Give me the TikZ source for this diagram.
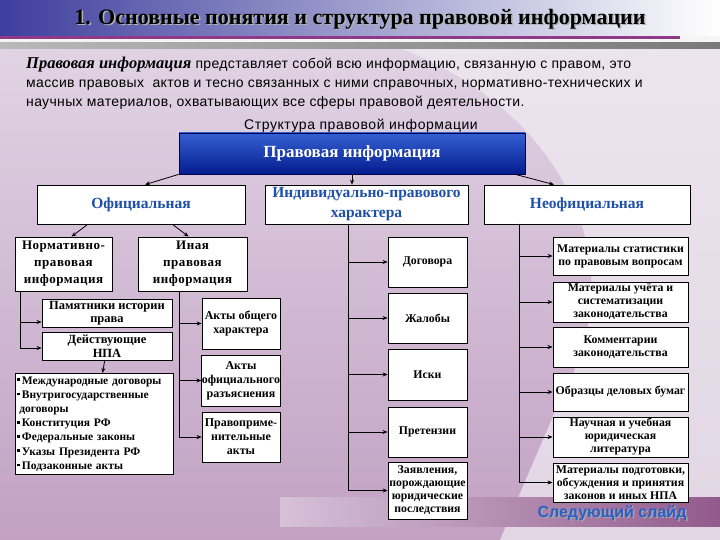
\documentclass[tikz,border=0pt]{standalone}
\usepackage{fontspec}
\setmainfont{Liberation Serif}
\setsansfont{Liberation Sans}
\usetikzlibrary{arrows.meta,positioning,calc}
\definecolor{titleblue}{HTML}{3E3E9E}
\definecolor{topblue}{HTML}{041C8E}
\definecolor{topblueL}{HTML}{3560D2}
\definecolor{lvltext}{HTML}{1E50A8}
\definecolor{bgdark}{HTML}{C2A1C3}
\definecolor{bgmid}{HTML}{E3D8E7}
\definecolor{bglight}{HTML}{F1EDF3}
\definecolor{bandpurple}{HTML}{925A8C}
\definecolor{linepurple}{HTML}{8E3A86}
\definecolor{nextblue}{HTML}{2D5FC8}
\newcommand\sqb{\raisebox{3pt}{\rule{2.6pt}{2.6pt}}\,}

\begin{document}
\begin{tikzpicture}[x=1pt,y=-1pt,
  every node/.style={align=center, inner sep=1pt},
  box/.style={draw, line width=0.8pt, fill=white, font=\fontsize{11.8}{13}\selectfont\bfseries},
  kindbox/.style={draw, line width=0.8pt, fill=white, text=lvltext,
    font=\fontsize{15.5}{20}\selectfont\bfseries, minimum height=39pt},
  link/.style={draw, line width=0.8pt, -{Stealth[length=5pt,width=4pt]}}]
  \useasboundingbox (0,0) rectangle (720,540);
  % background
  \shade[top color=bgmid, bottom color=bgdark] (0,0) rectangle (720,540);
  \fill[bglight, opacity=0.7] (400,48) .. controls (560,110) and (640,260) .. (560,400)
    -- (500,540) -- (720,540) -- (720,48) -- cycle;
  \shade[left color=bgdark!40!bgmid, right color=bandpurple] (280,497) rectangle (720,526);
  \shade[left color=titleblue, right color=white] (0,0) rectangle (720,36);
  \fill[white!92!gray] (0,36) rectangle (720,43);
  \draw[linepurple, line width=2.5pt] (0,37.5) -- (680,37.5);
  \shade[left color=gray!55, right color=gray!95!black] (0,43) rectangle (720,49);

  \node[text=gray!60, font=\fontsize{22}{26}\selectfont\bfseries] at (361.5,20.5)
    {1. Основные понятия и структура правовой информации};
  \node[font=\fontsize{22}{26}\selectfont\bfseries] (title) at (360,19)
    {1. Основные понятия и структура правовой информации};

  \node[anchor=north west, align=left, font=\sffamily\fontsize{14}{19}\selectfont\addfontfeature{LetterSpace=2.5}] (intro) at (25,56)
    {{\rmfamily\bfseries\itshape\fontsize{16.5}{19}\selectfont Правовая информация} представляет собой всю информацию, связанную с правом, это\\
     массив правовых \ актов и тесно связанных с ними справочных, нормативно-технических и\\
     научных материалов, охватывающих все сферы правовой деятельности.};
  \node[font=\sffamily\fontsize{14}{15}\selectfont\addfontfeature{LetterSpace=4}] (struct) at (361,126) {Структура правовой информации};

  \node[draw=black!70!blue, line width=0.8pt, top color=topblueL, bottom color=topblue, text=white,
    font=\fontsize{17}{19}\selectfont\bfseries, minimum width=346pt, minimum height=41pt]
    (pravinfo) at (352,153.5) {Правовая информация};

  \node[kindbox, minimum width=208pt] (off) at (141,204.5) {Официальная};
  \node[kindbox, minimum width=203pt] (ind) at (366.5,204.5) {Индивидуально-правового\\характера};
  \node[kindbox, minimum width=206pt] (neoff) at (587,204.5) {Неофициальная};

  \draw[link] (pravinfo.south west) -- ([xshift=4pt]off.north);
  \draw[link] (pravinfo.south) -- (pravinfo.south |- ind.north);
  \draw[link] ([xshift=-10pt]pravinfo.south east) -- ([xshift=-33pt]neoff.north);

  % official branch
  \node[box, font=\fontsize{13}{17}\selectfont\bfseries\addfontfeature{LetterSpace=4}, minimum width=97pt, minimum height=54pt]
    (npa) at (63.5,264) {Нормативно-\\правовая\\информация};
  \node[box, font=\fontsize{13}{17}\selectfont\bfseries\addfontfeature{LetterSpace=4}, minimum width=109pt, minimum height=54pt]
    (inaya) at (192.5,264) {Иная\\правовая\\информация};
  \draw[link] ([xshift=51pt]off.south west) -- ([xshift=8pt]npa.north);
  \draw[link] ([xshift=136pt]off.south west) -- ([xshift=-4pt]inaya.north);

  \node[box, font=\fontsize{12.5}{13.5}\selectfont\bfseries, minimum width=130pt, minimum height=28pt]
    (pam) at (107,313) {Памятники истории\\права};
  \node[box, font=\fontsize{12.5}{13.5}\selectfont\bfseries, minimum width=130pt, minimum height=28pt]
    (dnpa) at (107,346) {Действующие\\НПА};
  \node[box, anchor=north west, align=left, text width=154pt, inner sep=2pt, minimum height=101pt,
    font=\fontsize{11.5}{14.2}\selectfont\bfseries] (npalist) at (15,373)
    {\sqb Международные договоры\\
     \sqb Внутригосударственные\\
     \hspace*{2pt}договоры\\
     \sqb Конституция РФ\\
     \sqb Федеральные законы\\
     \sqb Указы Президента РФ\\
     \sqb Подзаконные акты};
  \coordinate (npatrunk) at (20,291);
  \draw[link] (npatrunk) |- ([yshift=-9pt]pam.west);
  \draw[link] (npatrunk) |- ([yshift=-2pt]dnpa.west);
  \draw[link] (dnpa) -- (npalist);

  \node[box, font=\fontsize{12}{14}\selectfont\bfseries, minimum width=78pt, minimum height=51pt]
    (aog) at (241,323.5) {Акты общего\\характера};
  \node[box, font=\fontsize{12}{14}\selectfont\bfseries, minimum width=78pt, minimum height=51pt, inner sep=0pt]
    (aor) at (241,380.5) {Акты\\официального\\разъяснения};
  \node[box, font=\fontsize{12}{14}\selectfont\bfseries, minimum width=78pt, minimum height=50pt]
    (apr) at (241,437) {Правоприме-\\нительные\\акты};
  \coordinate (inayatrunk) at (179,291);
  \foreach \n in {aog,aor,apr}
    \draw[link] (inayatrunk) |- (\n.west);

  % individual branch
  \node[box, minimum width=79pt, minimum height=50pt] (dog) at (427.5,262) {Договора};
  \node[box, minimum width=79pt, minimum height=50pt] (zhal) at (427.5,318) {Жалобы};
  \node[box, minimum width=79pt, minimum height=51pt] (isk) at (427.5,374.5) {Иски};
  \node[box, minimum width=79pt, minimum height=50pt] (pret) at (427.5,432) {Претензии};
  \node[box, minimum width=79pt, minimum height=57pt, inner sep=0pt] (zayav) at (427.5,490.5)
    {Заявления,\\порождающие\\юридические\\последствия};
  \coordinate (indtrunk) at (348,224);
  \foreach \n in {dog,zhal,isk,pret,zayav}
    \draw[link] (indtrunk) |- (\n.west);

  % unofficial branch
  \node[box, minimum width=135pt, minimum height=38pt] (stat) at (620.5,256)
    {Материалы статистики\\по правовым вопросам};
  \node[box, minimum width=135pt, minimum height=40pt] (uchet) at (620.5,302)
    {Материалы учёта и\\систематизации\\законодательства};
  \node[box, minimum width=135pt, minimum height=40pt] (komm) at (620.5,347)
    {Комментарии\\законодательства};
  \node[box, minimum width=135pt, minimum height=38pt] (obr) at (620.5,392)
    {Образцы деловых бумаг};
  \node[box, minimum width=135pt, minimum height=40pt] (nauch) at (620.5,437)
    {Научная и учебная\\юридическая\\литература};
  \node[box, minimum width=135pt, minimum height=39pt, inner sep=0pt] (podg) at (620.5,482.5)
    {Материалы подготовки,\\обсуждения и принятия\\законов и иных НПА};
  \coordinate (neotrunk) at (519,224);
  \foreach \n in {stat,uchet,komm,obr,nauch,podg}
    \draw[link] (neotrunk) |- (\n.west);

  \node[text=gray!70, font=\sffamily\fontsize{16}{18}\selectfont\bfseries] at (613.5,514.5) {Следующий слайд};
  \node[text=nextblue, font=\sffamily\fontsize{16}{18}\selectfont\bfseries] (next) at (612,513) {Следующий слайд};
\end{tikzpicture}
\end{document}
